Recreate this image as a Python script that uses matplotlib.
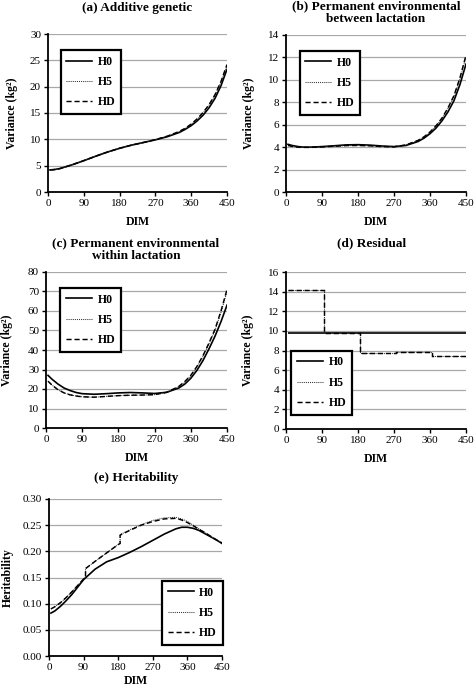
import matplotlib
matplotlib.use("Agg")
import matplotlib.pyplot as plt

plt.rcParams['font.family'] = ['Liberation Serif', 'DejaVu Serif']

# ---------------- data ----------------
dim = [5, 15, 30, 45, 60, 75, 90, 120, 150, 180, 210, 240, 270, 300, 330, 345, 360, 375, 390, 405, 420, 435, 450]
xticks = [0, 90, 180, 270, 360, 450]
series_names = ["H0", "H5", "HD"]

# (a) Additive genetic
add_H0 = [4.2, 4.25, 4.45, 4.8, 5.15, 5.55, 5.95, 6.8, 7.6, 8.3, 8.9, 9.4, 9.9, 10.5, 11.3, 11.9, 12.6, 13.5, 14.6, 16.0, 17.8, 20.2, 23.3]
add_H5 = [4.2, 4.25, 4.45, 4.8, 5.15, 5.55, 5.95, 6.8, 7.6, 8.3, 8.9, 9.4, 9.95, 10.6, 11.45, 12.05, 12.85, 13.8, 15.0, 16.5, 18.4, 20.9, 24.0]
add_HD = [4.2, 4.25, 4.45, 4.8, 5.15, 5.55, 5.95, 6.8, 7.6, 8.3, 8.9, 9.4, 9.95, 10.6, 11.5, 12.1, 12.9, 13.9, 15.1, 16.6, 18.5, 21.0, 24.2]

# (b) Permanent environmental between lactation
pe_H0 = [4.25, 4.15, 4.05, 4.0, 4.0, 4.02, 4.05, 4.12, 4.2, 4.22, 4.18, 4.1, 4.05, 4.15, 4.5, 4.8, 5.2, 5.7, 6.35, 7.15, 8.15, 9.6, 11.4]
pe_H5 = [4.15, 4.07, 4.0, 3.98, 3.98, 4.0, 4.02, 4.08, 4.14, 4.15, 4.12, 4.05, 4.03, 4.2, 4.58, 4.9, 5.32, 5.88, 6.55, 7.45, 8.5, 10.1, 12.0]
pe_HD = [4.15, 4.07, 4.0, 3.98, 3.98, 4.0, 4.02, 4.08, 4.14, 4.15, 4.12, 4.05, 4.03, 4.2, 4.6, 4.92, 5.35, 5.9, 6.6, 7.5, 8.6, 10.2, 12.2]

# (c) Permanent environmental within lactation
pw_H0 = [27, 25, 22.5, 20.5, 19.2, 18.2, 17.6, 17.3, 17.6, 18.0, 18.2, 18.0, 17.7, 18.3, 20.5, 22.5, 25.5, 29.5, 34.5, 40.5, 47, 54.5, 63]
pw_H5 = [24, 22, 19.6, 18.0, 17.0, 16.4, 16.0, 15.8, 16.2, 16.6, 16.8, 16.9, 17.1, 18.3, 21.2, 23.6, 26.8, 31.2, 36.6, 43.0, 50.0, 59.3, 70]
pw_HD = [24, 22, 19.6, 18.0, 17.0, 16.4, 16.0, 15.8, 16.2, 16.6, 16.8, 16.9, 17.1, 18.3, 21.3, 23.8, 27.0, 31.5, 37.0, 43.5, 50.5, 60, 71]

# (d) Residual (step functions)
res_edges_H0 = [5, 450]
res_H0 = [9.8]
res_edges_het = [5, 95, 185, 275, 365, 450]
res_H5 = [14.2, 9.75, 7.7, 7.85, 7.45]
res_HD = [14.2, 9.75, 7.7, 7.85, 7.45]

# (e) Heritability
her_dim_H0 = [5, 15, 30, 45, 60, 75, 90, 120, 150, 180, 210, 240, 270, 300, 330, 345, 360, 375, 390, 405, 420, 435, 450]
her_H0 = [0.082, 0.086, 0.095, 0.106, 0.118, 0.132, 0.146, 0.166, 0.180, 0.188, 0.198, 0.209, 0.221, 0.233, 0.243, 0.246, 0.246, 0.244, 0.240, 0.234, 0.228, 0.222, 0.215]
her_dim_het = [5, 15, 30, 45, 60, 75, 90, 95, 95, 120, 150, 180, 185, 185, 210, 240, 270, 300, 330, 345, 360, 375, 390, 405, 420, 435, 450]
her_H5 = [0.090, 0.094, 0.102, 0.112, 0.123, 0.135, 0.147, 0.150, 0.167, 0.181, 0.197, 0.213, 0.215, 0.232, 0.241, 0.251, 0.259, 0.264, 0.265, 0.262, 0.257, 0.250, 0.243, 0.236, 0.229, 0.222, 0.216]
her_HD = [0.090, 0.094, 0.102, 0.112, 0.123, 0.135, 0.147, 0.150, 0.167, 0.181, 0.197, 0.213, 0.215, 0.231, 0.240, 0.250, 0.257, 0.262, 0.263, 0.260, 0.255, 0.249, 0.242, 0.236, 0.229, 0.222, 0.216]

# ---------------- styling ----------------
styles = {
    "H0": dict(color="black", lw=1.2, ls="-"),
    "H5": dict(color="#333333", lw=0.75, ls=(0, (1, 1))),
    "HD": dict(color="black", lw=1.05, ls=(0, (3.5, 2))),
}

fig = plt.figure(figsize=(4.74, 6.86), dpi=100)
W, H = 474, 686


def make_ax(left, right, top, bottom):
    return fig.add_axes([left / W, 1 - bottom / H, (right - left) / W, (bottom - top) / H])


def style_ax(ax, ylim, ystep, yfmt, ylabel, ylab_x, xlab_y=-0.155):
    ax.set_xlim(0, 450)
    ax.set_ylim(*ylim)
    ax.set_xticks(xticks)
    yt = []
    v = ylim[0]
    while v <= ylim[1] + 1e-9:
        yt.append(round(v, 4))
        v += ystep
    ax.set_yticks(yt)
    ax.set_yticklabels([yfmt.format(t) for t in yt])
    for s in ("top", "right"):
        ax.spines[s].set_visible(False)
    for s in ("left", "bottom"):
        ax.spines[s].set_linewidth(1.3)
        ax.spines[s].set_color("black")
    ax.grid(axis="y", color="#a8a8a8", lw=0.9)
    ax.set_axisbelow(True)
    ax.tick_params(direction="out", length=3, width=1, labelsize=8, pad=2, colors="black")
    ax.set_xlabel("DIM", fontsize=8.5, fontweight="bold")
    ax.xaxis.set_label_coords(0.5, xlab_y)
    ax.set_ylabel(ylabel, fontsize=8.5, fontweight="bold")
    ax.yaxis.set_label_coords(ylab_x, 0.5)
    for lab in ax.get_xticklabels() + ax.get_yticklabels():
        lab.set_fontsize(8)


def add_legend(ax, handles, loc, anchor):
    leg = ax.legend(handles=handles, labels=series_names, loc=loc, bbox_to_anchor=anchor,
                    frameon=True, fancybox=False, edgecolor="black", framealpha=1,
                    prop=dict(weight="bold", size=8.5), handlelength=2.2, handletextpad=0.45,
                    labelspacing=0.7, borderpad=0.5, borderaxespad=0)
    leg.get_frame().set_linewidth(1.6)


# (a)
axa = make_ax(48, 227, 34, 192)
ha = [axa.plot(dim, d, **styles[n])[0] for n, d in zip(series_names, [add_H0, add_H5, add_HD])]
style_ax(axa, (0, 30), 5, "{:.0f}", "Variance (kg²)", -0.17)
add_legend(axa, ha, "upper left", (0.07, 0.9))
fig.text(137 / W, 1 - 8 / H, "(a) Additive genetic", ha="center", va="center", fontsize=9.5, fontweight="bold")

# (b)
axb = make_ax(286, 466, 35, 192)
hb = [axb.plot(dim, d, **styles[n])[0] for n, d in zip(series_names, [pe_H0, pe_H5, pe_HD])]
style_ax(axb, (0, 14), 2, "{:.0f}", "Variance (kg²)", -0.17)
add_legend(axb, hb, "upper left", (0.075, 0.9))
fig.text(376 / W, 1 - 13 / H, "(b) Permanent environmental\nbetween lactation", ha="center", va="center",
         fontsize=9.5, fontweight="bold", linespacing=1.05)

# (c)
axc = make_ax(46, 227, 272, 428)
hc = [axc.plot(dim, d, **styles[n])[0] for n, d in zip(series_names, [pw_H0, pw_H5, pw_HD])]
style_ax(axc, (0, 80), 10, "{:.0f}", "Variance (kg²)", -0.18)
add_legend(axc, hc, "upper left", (0.08, 0.9))
fig.text(136 / W, 1 - 250 / H, "(c) Permanent environmental\nwithin lactation", ha="center", va="center",
         fontsize=9.5, fontweight="bold", linespacing=1.05)

# (d)
axd = make_ax(286, 466, 272, 429)
axd.stairs(res_H0, res_edges_H0, baseline=None, **styles["H0"])
axd.stairs(res_H5, res_edges_het, baseline=None, **styles["H5"])
axd.stairs(res_HD, res_edges_het, baseline=None, **styles["HD"])
hd_lines = [plt.Line2D([], [], **styles[n]) for n in series_names]
style_ax(axd, (0, 16), 2, "{:.0f}", "Variance (kg²)", -0.18)
add_legend(axd, hd_lines, "lower left", (0.03, 0.09))
fig.text(372 / W, 1 - 243 / H, "(d) Residual", ha="center", va="center", fontsize=9.5, fontweight="bold")

# (e)
axe = make_ax(49, 222, 499, 656)
he = [axe.plot(her_dim_H0, her_H0, **styles["H0"])[0],
      axe.plot(her_dim_het, her_H5, **styles["H5"])[0],
      axe.plot(her_dim_het, her_HD, **styles["HD"])[0]]
style_ax(axe, (0, 0.30), 0.05, "{:.2f}", "Heritability", -0.205, xlab_y=-0.12)
add_legend(axe, he, "lower right", (1.005, 0.07))
fig.text(136 / W, 1 - 478 / H, "(e) Heritability", ha="center", va="center", fontsize=9.5, fontweight="bold")

fig.savefig("out.png", dpi=100)
